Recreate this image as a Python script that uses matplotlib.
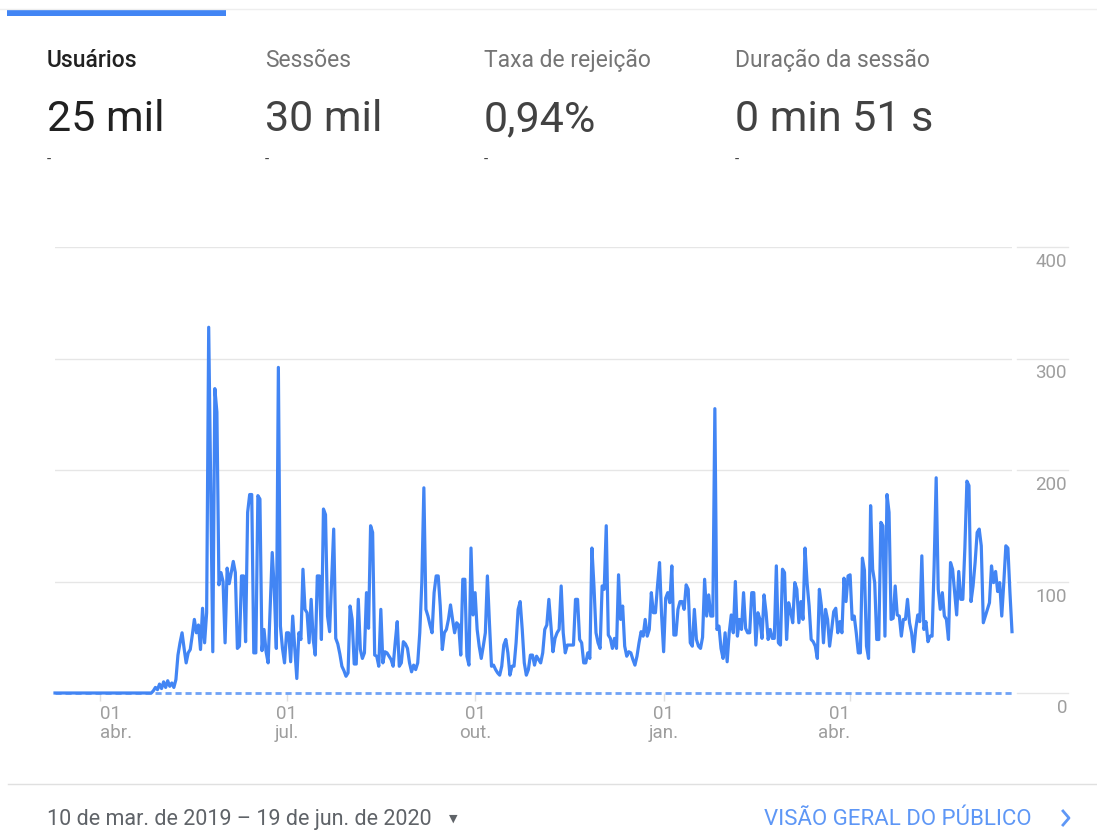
import numpy as np
import pandas as pd
import matplotlib
matplotlib.use("Agg")
import matplotlib.pyplot as plt
from matplotlib.lines import Line2D
from matplotlib.patches import Rectangle
from matplotlib.transforms import blended_transform_factory

plt.rcParams["font.family"] = ["Roboto", "DejaVu Sans"]

# ------------------------------------------------------------------ #
#  Data                                                                #
# ------------------------------------------------------------------ #

start_date = "2019-03-10"

# daily users, 10 mar 2019 .. 19 jun 2020
users = [
    0, 0, 0, 0, 0, 0, 0, 0, 0, 0,
    0, 0, 0, 0, 0, 0, 0, 0, 0, 0,
    0, 0, 0, 0, 0, 0, 0, 0, 0, 0,
    0, 0, 0, 0, 0, 0, 0, 0, 0, 0,
    0, 0, 0, 0, 0, 0, 0, 0, 2, 5,
    3, 8, 4, 10, 5, 11, 6, 9, 5, 12,
    34, 45, 54, 40, 27, 36, 39, 52, 66, 54,
    61, 39, 76, 45, 72, 328, 180, 37, 273, 252,
    97, 108, 100, 45, 112, 98, 108, 118, 108, 40,
    42, 105, 105, 46, 162, 178, 178, 36, 36, 177,
    174, 38, 57, 37, 27, 76, 126, 93, 40, 292,
    60, 40, 27, 54, 54, 28, 69, 40, 13, 54,
    48, 111, 75, 72, 45, 84, 48, 34, 105, 105,
    48, 165, 160, 69, 55, 100, 147, 49, 44, 35,
    24, 20, 15, 18, 78, 66, 26, 26, 84, 39,
    31, 36, 90, 58, 150, 144, 34, 33, 24, 75,
    27, 37, 36, 33, 30, 24, 45, 64, 24, 27,
    46, 44, 40, 27, 19, 25, 21, 27, 54, 99,
    184, 75, 69, 61, 54, 90, 105, 105, 78, 39,
    54, 57, 66, 79, 66, 54, 63, 61, 34, 102,
    102, 33, 25, 130, 70, 90, 57, 42, 31, 42,
    54, 105, 63, 24, 25, 21, 18, 16, 24, 43,
    48, 36, 16, 24, 24, 45, 75, 82, 57, 27,
    16, 21, 34, 34, 25, 33, 30, 27, 36, 57,
    61, 84, 60, 37, 49, 54, 57, 96, 54, 36,
    43, 43, 43, 43, 84, 84, 48, 45, 27, 27,
    36, 31, 130, 96, 54, 45, 40, 96, 93, 150,
    52, 49, 40, 49, 40, 106, 66, 78, 42, 33,
    37, 36, 30, 25, 33, 45, 55, 51, 66, 51,
    57, 90, 72, 72, 96, 117, 70, 37, 85, 90,
    81, 114, 52, 52, 75, 82, 82, 75, 97, 93,
    45, 42, 75, 48, 42, 40, 50, 102, 69, 88,
    69, 69, 255, 57, 60, 40, 31, 54, 28, 54,
    70, 54, 100, 51, 66, 57, 90, 58, 54, 54,
    90, 90, 43, 72, 66, 49, 88, 72, 48, 57,
    49, 49, 114, 45, 43, 111, 108, 48, 81, 73,
    63, 99, 93, 63, 82, 66, 130, 99, 78, 48,
    46, 42, 31, 93, 78, 45, 75, 66, 42, 57,
    73, 76, 54, 64, 54, 103, 82, 105, 106, 66,
    69, 54, 36, 36, 121, 110, 42, 31, 168, 111,
    99, 48, 48, 153, 150, 51, 178, 162, 66, 67,
    96, 70, 69, 51, 66, 66, 84, 63, 54, 37,
    57, 70, 64, 123, 57, 64, 46, 51, 51, 114,
    193, 93, 75, 90, 69, 66, 48, 117, 111, 90,
    70, 109, 84, 84, 130, 190, 186, 82, 96, 117,
    144, 147, 132, 63, 69, 75, 81, 114, 99, 109,
    91, 99, 69, 99, 132, 130, 90, 55,
]

y_ticks = [0, 100, 200, 300, 400]
x_tick_dates = ["2019-04-01", "2019-07-01", "2019-10-01", "2020-01-01", "2020-04-01"]
x_tick_days = ["01", "01", "01", "01", "01"]
x_tick_months = ["abr.", "jul.", "out.", "jan.", "abr."]

metric_names = ["Usuários", "Sessões", "Taxa de rejeição", "Duração da sessão"]
metric_values = ["25 mil", "30 mil", "0,94%", "0 min 51 s"]

date_range_label = "10 de mar. de 2019 – 19 de jun. de 2020"
link_label = "VISÃO GERAL DO PÚBLICO"

# ------------------------------------------------------------------ #
#  Layout helpers (pixel -> figure fraction)                           #
# ------------------------------------------------------------------ #

W, H = 1097, 839
BLUE = "#4285f4"


def fx(px):
    return px / W


def fy(py):
    return 1 - py / H


dates = pd.date_range(start_date, periods=len(users), freq="D")
comparison = np.zeros(len(users))

fig = plt.figure(figsize=(W / 100, H / 100), dpi=100)
fig.patch.set_facecolor("white")

# top tab bar
fig.add_artist(Line2D([0, 1], [fy(9), fy(9)], color="#eeeeee", lw=1))
fig.add_artist(Rectangle((fx(7), fy(16)), fx(226) - fx(7), fy(10) - fy(16),
                         color=BLUE, lw=0))

# metric header
metric_x = [47, 265, 484, 735]
for i, (name, value, x) in enumerate(zip(metric_names, metric_values, metric_x)):
    active = i == 0
    fig.text(fx(x), fy(67), name, fontsize=16.5,
             color="#212121" if active else "#757575",
             fontweight="medium" if active else "normal", va="baseline")
    fig.text(fx(x), fy(131), value, fontsize=31,
             color="#212121" if active else "#424242",
             fontweight="normal", va="baseline")
    fig.text(fx(x), fy(160), "-", fontsize=11, color="#424242", va="center")

# ------------------------------------------------------------------ #
#  Chart                                                               #
# ------------------------------------------------------------------ #

ax = fig.add_axes([fx(55), fy(693), fx(1012) - fx(55), fy(247) - fy(693)])
ax.set_facecolor("none")

for v in y_ticks:
    ax.axhline(v, color="#e6e6e6", lw=1, zorder=0)

ax.plot(dates, comparison, color="#6fa2f6", lw=2, ls=(0, (2.2, 1.4)),
        zorder=2, clip_on=False)
ax.plot(dates, users, color=BLUE, lw=2.3, zorder=3, clip_on=False,
        solid_joinstyle="round")

ax.set_xlim(dates[0], dates[-1])
ax.set_ylim(0, 400)
for s in ax.spines.values():
    s.set_visible(False)
ax.set_yticks([])
ax.set_xticks(pd.to_datetime(x_tick_dates))
ax.set_xticklabels([])
ax.tick_params(axis="x", length=6, width=1, color="#e0e0e0", direction="out")

# right-hand value labels with their short grid stubs
stub_tr = blended_transform_factory(fig.transFigure, ax.transData)
for v in y_ticks:
    fig.add_artist(Line2D([fx(1017), fx(1068)], [v, v], transform=stub_tr,
                          color="#e6e6e6", lw=1))
    ax.annotate(str(v), xy=(1, v), xycoords=("axes fraction", "data"),
                xytext=(55, -20), textcoords="offset pixels",
                ha="right", va="baseline", fontsize=13.5, color="#9e9e9e",
                annotation_clip=False)

# date labels under the ticks
n_ticks = len(x_tick_dates)
for i, (d, day, mon) in enumerate(zip(x_tick_dates, x_tick_days, x_tick_months)):
    ha = "left" if i == 0 else ("right" if i == n_ticks - 1 else "center")
    for txt, dy in ((day, -26), (mon, -45)):
        ax.annotate(txt, xy=(pd.Timestamp(d), 0), xycoords=("data", "axes fraction"),
                    xytext=(0, dy), textcoords="offset pixels", ha=ha,
                    va="baseline", fontsize=13.5, color="#9e9e9e",
                    annotation_clip=False)

# ------------------------------------------------------------------ #
#  Footer                                                              #
# ------------------------------------------------------------------ #

fig.add_artist(Line2D([fx(8), 1], [fy(784), fy(784)], color="#e0e0e0", lw=1))
fig.text(fx(47), fy(825), date_range_label, fontsize=15.5, color="#5f6368",
         va="baseline")
fig.text(fx(453), fy(819), "▼", fontsize=8, color="#5f6368", va="center",
         ha="center", family="DejaVu Sans")
fig.text(fx(1031), fy(825), link_label, fontsize=16, color="#5e97f6",
         va="baseline", ha="right")
fig.add_artist(Line2D([fx(1063), fx(1069), fx(1063)], [fy(811), fy(818), fy(825)],
                      color="#5e97f6", lw=2))

fig.savefig("out.png", dpi=100)
